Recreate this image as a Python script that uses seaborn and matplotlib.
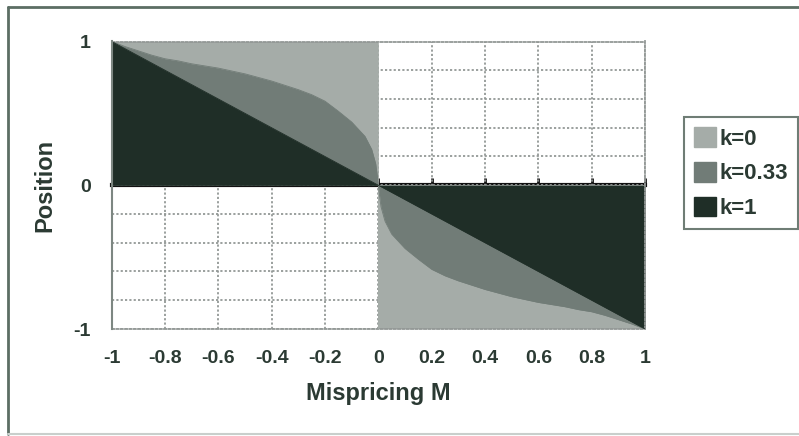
import matplotlib
matplotlib.use("Agg")
import matplotlib.pyplot as plt
from matplotlib.patches import Patch
from matplotlib.lines import Line2D
from matplotlib.ticker import MultipleLocator, FixedLocator
import seaborn as sns
import pandas as pd

# Mispricing grid (M = 0 appears twice so the k=0 position can jump from +1 to -1)
mispricing = [-1.0, -0.95, -0.9, -0.85, -0.8, -0.75, -0.7, -0.65, -0.6, -0.55,
              -0.5, -0.45, -0.4, -0.35, -0.3, -0.25, -0.2, -0.15, -0.1, -0.05,
              -0.025, -0.01, -0.005, 0.0,
              0.0, 0.005, 0.01, 0.025, 0.05, 0.1, 0.15, 0.2, 0.25, 0.3, 0.35, 0.4,
              0.45, 0.5, 0.55, 0.6, 0.65, 0.7, 0.75, 0.8, 0.85, 0.9, 0.95, 1.0]

# Optimal position for each value of k
pos_k0 = [1, 1, 1, 1, 1, 1, 1, 1, 1, 1, 1, 1, 1, 1, 1, 1, 1, 1, 1, 1, 1, 1, 1, 1,
          -1, -1, -1, -1, -1, -1, -1, -1, -1, -1, -1, -1, -1, -1, -1, -1, -1,
          -1, -1, -1, -1, -1, -1, -1]
pos_k033 = [1.0, 0.965, 0.935, 0.905, 0.88, 0.865, 0.845, 0.83, 0.815, 0.795,
            0.775, 0.75, 0.725, 0.695, 0.665, 0.63, 0.585, 0.515, 0.44, 0.34,
            0.25, 0.15, 0.08, 0.0,
            0.0, -0.08, -0.15, -0.25, -0.34, -0.44, -0.515, -0.585, -0.63, -0.665,
            -0.695, -0.725, -0.75, -0.775, -0.795, -0.815, -0.83, -0.845, -0.865,
            -0.88, -0.905, -0.935, -0.965, -1.0]
pos_k1 = [1.0, 0.95, 0.9, 0.85, 0.8, 0.75, 0.7, 0.65, 0.6, 0.55,
          0.5, 0.45, 0.4, 0.35, 0.3, 0.25, 0.2, 0.15, 0.1, 0.05,
          0.025, 0.01, 0.005, 0.0,
          0.0, -0.005, -0.01, -0.025, -0.05, -0.1, -0.15, -0.2, -0.25, -0.3, -0.35,
          -0.4, -0.45, -0.5, -0.55, -0.6, -0.65, -0.7, -0.75, -0.8, -0.85, -0.9,
          -0.95, -1.0]

series_labels = ["k=0", "k=0.33", "k=1"]
series_colors = ["#a5aca8", "#717c77", "#1f2e27"]
x_ticks = [-1, -0.8, -0.6, -0.4, -0.2, 0, 0.2, 0.4, 0.6, 0.8, 1]
x_tick_labels = ["-1", "-0.8", "-0.6", "-0.4", "-0.2", "0", "0.2", "0.4", "0.6", "0.8", "1"]
y_ticks = [-1, 0, 1]
y_tick_labels = ["-1", "0", "1"]

df = pd.DataFrame({
    "M": mispricing * 3,
    "position": pos_k0 + pos_k033 + pos_k1,
    "k": [series_labels[0]] * len(mispricing)
         + [series_labels[1]] * len(mispricing)
         + [series_labels[2]] * len(mispricing),
})

sns.set_style("white")
plt.rcParams["font.family"] = ["Liberation Sans", "DejaVu Sans"]
plt.rcParams["axes.unicode_minus"] = False
text_color = "#2b3a33"

fig = plt.figure(figsize=(7.99, 4.36), dpi=100)
ax = fig.add_axes([111.7 / 799, 1 - 329 / 436, (645 - 111.7) / 799, (329 - 41.5) / 436])

# Filled areas, drawn in series order so later series sit on top
for label, color in zip(series_labels, series_colors):
    sub = df[df["k"] == label]
    ax.fill_between(sub["M"], 0, sub["position"], color=color, lw=0, zorder=2)
sns.lineplot(data=df, x="M", y="position", hue="k", palette=series_colors,
             sort=False, estimator=None, lw=0.6, legend=False, ax=ax, zorder=3)

ax.set_xlim(-1, 1)
ax.set_ylim(-1, 1)

# Dotted grid behind the areas
ax.xaxis.set_major_locator(FixedLocator(x_ticks))
ax.set_xticklabels(x_tick_labels)
ax.yaxis.set_major_locator(FixedLocator(y_ticks))
ax.set_yticklabels(y_tick_labels)
ax.yaxis.set_minor_locator(MultipleLocator(0.2))
grid_kw = dict(color="#939896", linestyle=(0, (1.2, 1.2)), linewidth=1.3)
ax.grid(True, which="major", axis="x", **grid_kw)
ax.grid(True, which="both", axis="y", **grid_kw)
ax.set_axisbelow(True)

for side in ["top", "right", "bottom"]:
    ax.spines[side].set_color("#939896")
    ax.spines[side].set_linestyle((0, (1.2, 1.2)))
    ax.spines[side].set_linewidth(1.3)
ax.spines["left"].set_color("#7d8782")
ax.spines["left"].set_linewidth(1.5)
ax.spines["left"].set_zorder(4)

ax.tick_params(axis="x", which="both", length=0, pad=15, labelsize=14,
               labelcolor=text_color)
ax.tick_params(axis="y", which="major", length=6, width=1.5, color="#7d8782",
               direction="out", pad=9, labelsize=14, labelcolor=text_color)
ax.tick_params(axis="y", which="minor", length=0)
for t in ax.get_xticklabels() + ax.get_yticklabels():
    t.set_fontweight("bold")

# Zero line with its tick marks
zero_axis = ax.secondary_xaxis(0.5)
zero_axis.xaxis.set_major_locator(FixedLocator(x_ticks))
zero_axis.tick_params(axis="x", length=5, width=2, color="#111111",
                      direction="out", labelbottom=False, labeltop=False)
for side in ["bottom", "top"]:
    zero_axis.spines[side].set_linewidth(3)
    zero_axis.spines[side].set_color("#111111")

ax.set_xlabel("Mispricing M", fontsize=17, fontweight="bold", color=text_color)
ax.xaxis.set_label_coords(0.5, -0.185)
ax.set_ylabel("Position", fontsize=17, fontweight="bold", color=text_color, va="center")
ax.yaxis.set_label_coords(-0.125, 0.5)

handles = [Patch(facecolor=c, edgecolor=c, label=l) for l, c in zip(series_labels, series_colors)]
leg = fig.legend(handles=handles, loc="upper left",
                 bbox_to_anchor=(684 / 799, 1 - 117 / 436),
                 bbox_transform=fig.transFigure, borderaxespad=0,
                 frameon=True, fancybox=False, framealpha=1,
                 prop={"size": 16, "weight": "bold"},
                 handlelength=1.0, handleheight=1.0, handletextpad=0.15,
                 labelspacing=0.55, borderpad=0.45)
leg.get_frame().set_edgecolor("#6f7d75")
leg.get_frame().set_linewidth(1.5)
for t in leg.get_texts():
    t.set_color(text_color)

# Chart border
fig.add_artist(Line2D([8 / 799, 8 / 799], [1 - 434 / 436, 1 - 7 / 436],
                      transform=fig.transFigure, color="#5c6e64", lw=2))
fig.add_artist(Line2D([8 / 799, 1], [1 - 7 / 436, 1 - 7 / 436],
                      transform=fig.transFigure, color="#5c6e64", lw=2))
fig.add_artist(Line2D([8 / 799, 1], [1 - 434 / 436, 1 - 434 / 436],
                      transform=fig.transFigure, color="#c9cfcc", lw=1.5))

fig.savefig("out.png", dpi=100)
